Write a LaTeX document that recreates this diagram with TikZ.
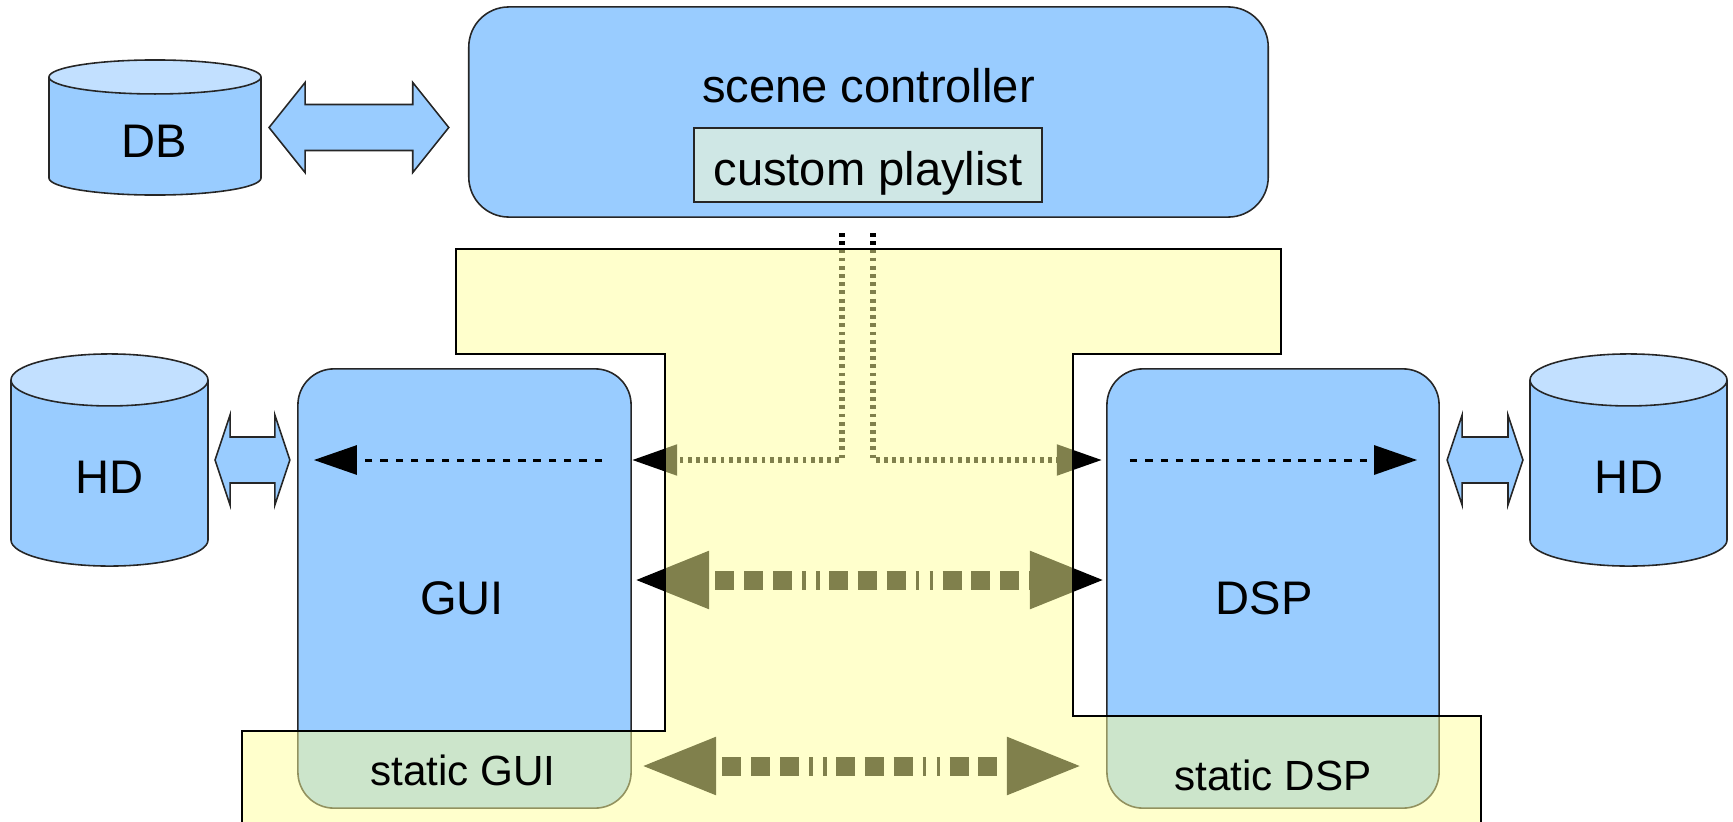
\documentclass[tikz,border=0pt]{standalone}
\usepackage{fontspec}
\setmainfont{Liberation Sans}
\usetikzlibrary{arrows.meta,calc}

\definecolor{boxblue}{RGB}{153,204,255}
\definecolor{lidblue}{RGB}{194,224,255}
\definecolor{listfill}{RGB}{207,231,229}
\definecolor{zonefill}{RGB}{255,255,153}

\tikzset{
  box/.style={draw=black!85, line width=0.45pt, fill=boxblue, rounded corners=0.36cm,
    inner sep=0pt, outer sep=0pt},
  listbox/.style={draw=black!85, line width=0.45pt, fill=listfill, inner sep=0pt, outer sep=0pt},
  cylnode/.style={inner sep=0pt, outer sep=0pt},
  cylline/.style={draw=black!85, line width=0.45pt},
  blockarr/.style={draw=black!85, line width=0.45pt, fill=boxblue, line join=miter},
  dotarr/.style={line width=0.052cm, dash pattern=on 0.038cm off 0.044cm,
    -{Triangle[length=0.45cm,width=0.30cm]}},
  dasharr/.style={line width=0.03cm, dash pattern=on 0.075cm off 0.078cm,
    -{Triangle[length=0.43cm,width=0.29cm]}},
  bigarr/.style={line width=0.19cm,
    dash pattern=on 0.19cm off 0.096cm on 0.19cm off 0.1cm on 0.19cm off 0.1cm
                 on 0.036cm off 0.104cm on 0.036cm off 0.094cm,
    dash phase=1.026cm,
    {Triangle[length=0.77cm,width=0.52cm]}-{Triangle[length=0.77cm,width=0.52cm]}},
  zone/.style={fill=zonefill, fill opacity=0.5, draw=black, line width=0.45pt},
  lbl/.style={font=\fontsize{13.4pt}{16pt}\selectfont, anchor=base, inner sep=0pt},
  slbl/.style={font=\fontsize{12pt}{14pt}\selectfont, anchor=base, inner sep=0pt},
}

% cylinder drawn inside the frame of a named node: #1 node, #2 x radius, #3 y radius
\newcommand\drawcyl[3]{%
  \filldraw[cylline, fill=boxblue] ($(#1.south)+(0,-#3)$) ellipse [x radius=#2, y radius=#3];
  \fill[boxblue] ($(#1.north west)+(0,#3)$) rectangle ($(#1.south east)+(0,-#3)$);
  \draw[cylline] ($(#1.north west)+(0,#3)$) -- ($(#1.south west)+(0,-#3)$);
  \draw[cylline] ($(#1.north east)+(0,#3)$) -- ($(#1.south east)+(0,-#3)$);
  \filldraw[cylline, fill=lidblue] ($(#1.north)+(0,#3)$) ellipse [x radius=#2, y radius=#3];
}

% horizontal double block arrow: #1 left tip, #2 right tip, #3 head length,
% #4 head half width, #5 shaft half width
\newcommand\blockarrow[5]{%
  \filldraw[blockarr] let \p1=#1, \p2=#2 in
    (\x1,\y1)
    -- ($(\x1,\y1)+(#3,-#4)$) -- ($(\x1,\y1)+(#3,-#5)$)
    -- ($(\x2,\y1)+(-#3,-#5)$) -- ($(\x2,\y1)+(-#3,-#4)$)
    -- (\x2,\y1)
    -- ($(\x2,\y1)+(-#3,#4)$) -- ($(\x2,\y1)+(-#3,#5)$)
    -- ($(\x1,\y1)+(#3,#5)$) -- ($(\x1,\y1)+(#3,#4)$)
    -- cycle;
}

\begin{document}
\begin{tikzpicture}[x=0.01cm,y=-0.01cm]
\useasboundingbox (0,0) rectangle (1733,821);
\clip (0,0) rectangle (1733,821);

% main blocks
\node[box, rounded corners=0.4cm, minimum width=7.99cm, minimum height=2.10cm] (sc) at (868.5,112) {};
\node[listbox, minimum width=3.48cm, minimum height=0.74cm] (pl) at (868,165) {};
\node[box, minimum width=3.33cm, minimum height=4.39cm] (gui) at (464.5,588.5) {};
\node[box, minimum width=3.32cm, minimum height=4.39cm] (dsp) at (1273,588.5) {};

% storage cylinders
\node[cylnode, minimum width=2.12cm, minimum height=1.35cm] (db) at (155,127.5) {};
\node[cylnode, minimum width=1.97cm, minimum height=2.12cm] (hdl) at (109.5,460) {};
\node[cylnode, minimum width=1.97cm, minimum height=2.12cm] (hdr) at (1628.5,460) {};
\drawcyl{db}{106}{17}
\drawcyl{hdl}{98.5}{26}
\drawcyl{hdr}{98.5}{26}

% block arrows to the storages
\blockarrow{($(db.east)+(8,0)$)}{($(sc.west|-db.east)+(-20,0)$)}{36}{45}{23}
\blockarrow{($(hdl.east)+(7,0)$)}{($(gui.west|-hdl.east)+(-8,0)$)}{15}{45}{23}
\blockarrow{($(dsp.east|-hdr.west)+(8,0)$)}{($(hdr.west)+(-7,0)$)}{15}{45}{23}

% rows of the connectors
\coordinate (row1) at (0,460);
\coordinate (row2) at (0,580);
\coordinate (row3) at (0,766);

% links from the scene controller
\coordinate (sl) at ($(sc.south)+(-26.5,16)$);
\coordinate (sr) at ($(sc.south)+(4.5,16)$);
\draw[dotarr] (sl) |- ($(gui.east|-row1)+(1,0)$);
\draw[dotarr] (sr) |- ($(dsp.west|-row1)+(-5,0)$);

% internal flows
\draw[dasharr] ($(gui.east|-row1)+(-29,0)$) -- ($(gui.west|-row1)+(16,0)$);
\draw[dasharr] ($(dsp.west|-row1)+(23,0)$) -- ($(dsp.east|-row1)+(-22,0)$);

% GUI <-> DSP
\draw[bigarr] ($(gui.east|-row2)+(1,0)$) -- (dsp.west|-row2);
\draw[bigarr] ($(gui.east|-row3)+(8,0)$) -- ($(dsp.west|-row3)+(-23,0)$);

% shared zone
\filldraw[zone] (456,249) -- (1281,249) -- (1281,354) -- (1073,354) -- (1073,716)
  -- (1481,716) -- (1481,830) -- (242,830) -- (242,731) -- (665,731) -- (665,354)
  -- (456,354) -- cycle;

% labels
\node[lbl] (sct) at (868.5,102) {scene controller};
\node[lbl] (plt) at (868,185) {custom playlist};
\node[lbl] (dbt) at (154,157) {DB};
\node[lbl] (hdlt) at (110,493) {HD};
\node[lbl] (hdrt) at (1629,493) {HD};
\node[lbl] (guit) at (462,614) {GUI};
\node[lbl] (dspt) at (1264,614) {DSP};
\node[slbl] (sguit) at (463,785) {static GUI};
\node[slbl] (sdspt) at (1273,790) {static DSP};
\end{tikzpicture}
\end{document}
